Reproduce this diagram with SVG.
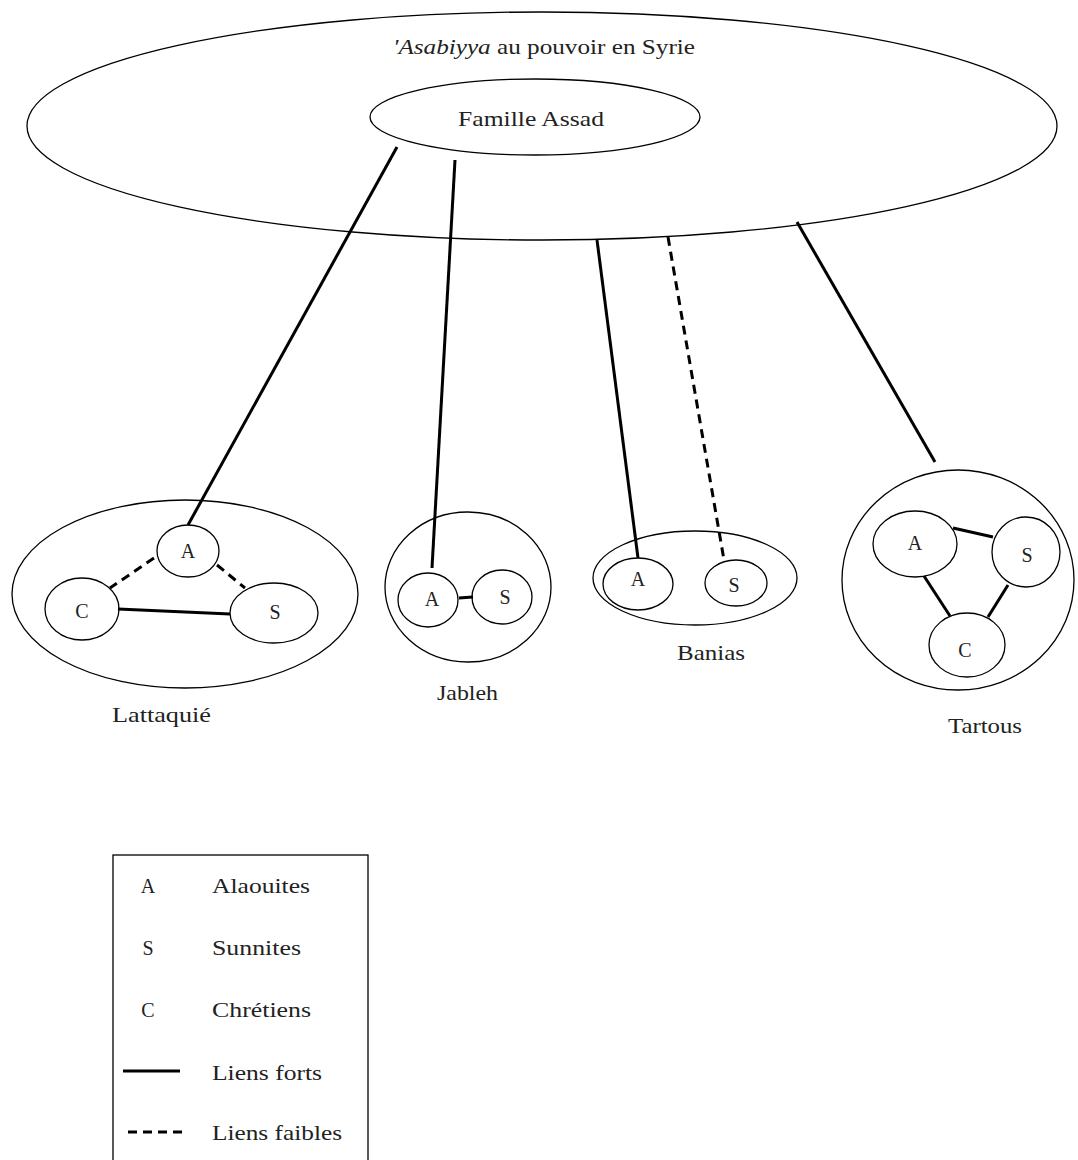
<svg xmlns="http://www.w3.org/2000/svg" width="1078" height="1160" viewBox="0 0 1078 1160">
<style>
.e{fill:none;stroke:#000;stroke-width:1.3}
.s{stroke:#000;stroke-width:3;fill:none}
.d{stroke:#000;stroke-width:3;fill:none;stroke-dasharray:9 6}
.t{font-family:"Liberation Serif",serif;font-size:22px;fill:#222}
.l{font-family:"Liberation Serif",serif;font-size:20px;fill:#222;text-anchor:middle}
</style>
<rect width="1078" height="1160" fill="#fff"/>
<g id="asabiyya">
<ellipse class="e" cx="542" cy="126" rx="515" ry="114"/>
<text class="t" x="393" y="54" textLength="302" lengthAdjust="spacingAndGlyphs"><tspan font-style="italic">'Asabiyya</tspan> au pouvoir en Syrie</text>
</g>
<g id="assad">
<ellipse class="e" cx="535" cy="117" rx="165" ry="38"/>
<text class="t" x="458" y="126" textLength="146" lengthAdjust="spacingAndGlyphs">Famille Assad</text>
</g>
<g id="connectors">
<line class="s" x1="397" y1="147" x2="188" y2="525"/>
<line class="s" x1="455" y1="160" x2="432" y2="568"/>
<line class="s" x1="597" y1="240" x2="638" y2="558"/>
<line class="d" x1="668" y1="237" x2="724" y2="560"/>
<line class="s" x1="797" y1="222" x2="935" y2="462"/>
<line class="d" x1="154" y1="558" x2="110" y2="588"/>
<line class="d" x1="217" y1="565" x2="245" y2="588"/>
<line class="s" x1="118" y1="609" x2="230" y2="614"/>
<line class="s" x1="459" y1="598" x2="473" y2="597"/>
<line class="s" x1="953" y1="528" x2="993" y2="537"/>
<line class="s" x1="924" y1="576" x2="950" y2="616"/>
<line class="s" x1="1008" y1="585" x2="988" y2="617"/>
</g>
<g id="lattaquie">
<ellipse class="e" cx="185" cy="594" rx="173" ry="94"/>
<ellipse class="e" cx="188" cy="551" rx="31" ry="26"/>
<text class="l" x="188" y="558">A</text>
<ellipse class="e" cx="82" cy="609" rx="37" ry="31"/>
<text class="l" x="82" y="618">C</text>
<ellipse class="e" cx="274" cy="613" rx="44" ry="30"/>
<text class="l" x="275" y="619">S</text>
<text class="t" x="112" y="722" textLength="99" lengthAdjust="spacingAndGlyphs">Lattaquié</text>
</g>
<g id="jableh">
<ellipse class="e" cx="468" cy="587" rx="83" ry="75"/>
<ellipse class="e" cx="428" cy="600" rx="30" ry="27"/>
<text class="l" x="432" y="606">A</text>
<ellipse class="e" cx="502" cy="597" rx="30" ry="27"/>
<text class="l" x="505" y="604">S</text>
<text class="t" x="437" y="700" textLength="61" lengthAdjust="spacingAndGlyphs">Jableh</text>
</g>
<g id="banias">
<ellipse class="e" cx="695" cy="578" rx="102" ry="47"/>
<ellipse class="e" cx="638" cy="584" rx="35" ry="26"/>
<text class="l" x="638" y="586">A</text>
<ellipse class="e" cx="736" cy="583" rx="31" ry="23"/>
<text class="l" x="734" y="592">S</text>
<text class="t" x="677" y="660" textLength="68" lengthAdjust="spacingAndGlyphs">Banias</text>
</g>
<g id="tartous">
<ellipse class="e" cx="958" cy="580" rx="116" ry="110"/>
<ellipse class="e" cx="915" cy="544" rx="42" ry="33"/>
<text class="l" x="915" y="550">A</text>
<ellipse class="e" cx="1026" cy="552" rx="34" ry="35"/>
<text class="l" x="1027" y="562">S</text>
<ellipse class="e" cx="967" cy="645" rx="38" ry="32"/>
<text class="l" x="965" y="657">C</text>
<text class="t" x="948" y="733" textLength="74" lengthAdjust="spacingAndGlyphs">Tartous</text>
</g>
<g id="legend">
<rect x="113" y="855" width="255" height="320" fill="none" stroke="#000" stroke-width="1.3"/>
<text class="l" x="148" y="893">A</text>
<text class="t" x="212" y="893" textLength="98" lengthAdjust="spacingAndGlyphs">Alaouites</text>
<text class="l" x="148" y="955">S</text>
<text class="t" x="212" y="955" textLength="89" lengthAdjust="spacingAndGlyphs">Sunnites</text>
<text class="l" x="148" y="1017">C</text>
<text class="t" x="212" y="1017" textLength="99" lengthAdjust="spacingAndGlyphs">Chrétiens</text>
<line class="s" x1="123" y1="1071" x2="180" y2="1071"/>
<text class="t" x="212" y="1080" textLength="110" lengthAdjust="spacingAndGlyphs">Liens forts</text>
<line class="d" x1="128" y1="1132" x2="185" y2="1132"/>
<text class="t" x="212" y="1140" textLength="130" lengthAdjust="spacingAndGlyphs">Liens faibles</text>
</g>
</svg>
